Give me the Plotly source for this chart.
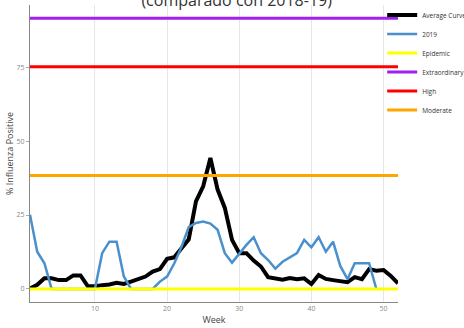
import plotly.graph_objects as go

# weekly values
weeks = list(range(1, 53))

average_curve = [
    0.2, 1.4, 3.6, 3.6, 3.0, 3.0, 4.6, 4.6, 1.0, 0.9,
    1.3, 1.5, 2.1, 1.7, 2.5, 3.3, 4.2, 5.9, 6.7, 10.2,
    10.7, 13.8, 16.8, 29.6, 34.7, 44.3, 33.6, 27.4, 16.6, 12.1,
    12.1, 9.6, 7.6, 4.0, 3.5, 3.1, 3.7, 3.3, 3.6, 1.7,
    4.7, 3.4, 3.0, 2.7, 2.3, 4.0, 3.3, 6.7, 6.2, 6.4,
    4.4, 1.9,
]

season_2019 = [
    25.1, 12.6, 8.7, 0, 0, 0, 0, 0, 0, 0,
    12.1, 16.0, 16.0, 4.3, 0, 0, 0, 0, 2.5, 4.2,
    8.7, 14.3, 20.9, 22.3, 22.8, 22.1, 20.0, 12.1, 8.9, 12.1,
    14.9, 17.5, 12.1, 9.8, 6.9, 9.2, 10.7, 12.1, 16.6, 14.1,
    17.5, 12.6, 16.0, 7.8, 3.3, 8.7, 8.7, 8.7, 0, None,
    None, None,
]

thresholds = {
    "Epidemic": (0.0, "#FFFF00"),
    "Extraordinary": (91.5, "#A020F0"),
    "High": (75.1, "#FF0000"),
    "Moderate": (38.4, "#FFA500"),
}

TEXT_GREY = "#666666"

fig = go.Figure()
fig.add_trace(
    go.Scatter(x=weeks, y=average_curve, mode="lines", name="Average Curve",
               line={"color": "#000000", "width": 4})
)
fig.add_trace(
    go.Scatter(x=weeks, y=season_2019, mode="lines", name="2019",
               line={"color": "#4A90CC", "width": 2.5})
)
for name, (level, color) in thresholds.items():
    fig.add_trace(
        go.Scatter(x=weeks, y=[level] * len(weeks), mode="lines", name=name,
                   line={"color": color, "width": 3})
    )

fig.update_layout(
    width=464,
    height=328,
    margin={"l": 30, "r": 66, "t": 5, "b": 26, "autoexpand": False},
    paper_bgcolor="#FFFFFF",
    plot_bgcolor="#FFFFFF",
    font={"family": "Open Sans, Verdana, sans-serif", "color": TEXT_GREY},
    title={
        "text": "(comparado con 2018-19)",
        "x": 0.51,
        "xanchor": "center",
        "y": 1.0,
        "yanchor": "middle",
        "font": {"size": 16, "color": "#333333"},
    },
    xaxis={
        "title": {"text": "Week", "font": {"size": 9, "color": "#444444"}, "standoff": 4},
        "range": [1, 52],
        "tickvals": [10, 20, 30, 40, 50],
        "tickfont": {"size": 7, "color": "#888888"},
        "showgrid": True,
        "gridcolor": "#E6E6E6",
        "showline": True,
        "linecolor": "#888888",
        "linewidth": 1,
        "zeroline": False,
        "ticks": "",
    },
    yaxis={
        "title": {"text": "% Influenza Positive", "font": {"size": 9, "color": "#444444"}, "standoff": 1},
        "range": [-4.4, 96],
        "tickvals": [0, 25, 50, 75],
        "tickfont": {"size": 7, "color": "#888888"},
        "showgrid": False,
        "showline": True,
        "linecolor": "#888888",
        "linewidth": 1,
        "zeroline": False,
        "ticks": "outside",
        "ticklen": 3,
        "tickcolor": "#AAAAAA",
    },
    legend={
        "x": 0.957,
        "xanchor": "left",
        "y": 1.015,
        "yanchor": "top",
        "font": {"size": 6.5, "color": "#333333"},
        "tracegroupgap": 0,
        "itemwidth": 30,
        "bgcolor": "rgba(0,0,0,0)",
    },
)

fig.write_html(
    "out.html",
    config={"displayModeBar": False},
    post_script="document.body.style.margin = '0';",
)
